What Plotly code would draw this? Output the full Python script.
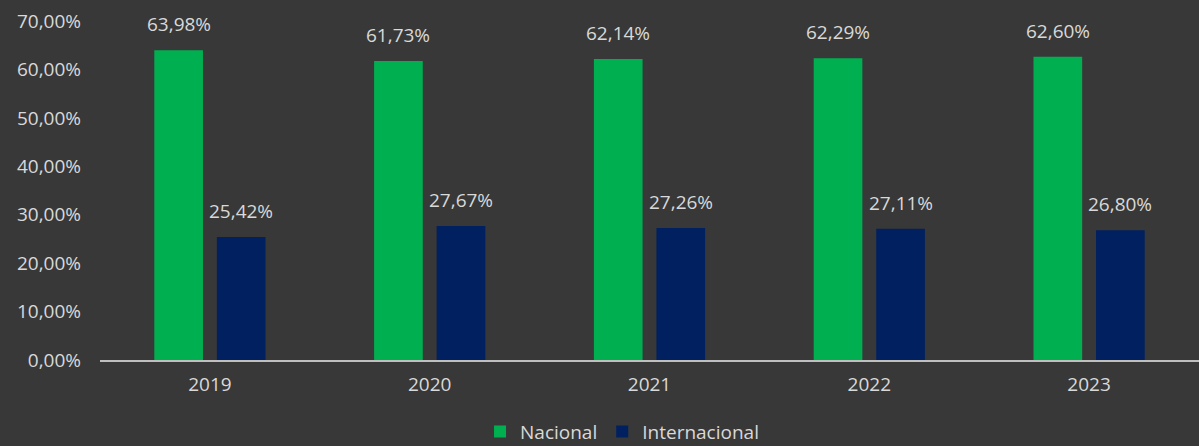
import plotly.graph_objects as go

years = ["2019", "2020", "2021", "2022", "2023"]
nacional = [0.6398, 0.6173, 0.6214, 0.6229, 0.6260]
internacional = [0.2542, 0.2767, 0.2726, 0.2711, 0.2680]
y_ticks = [0, 0.1, 0.2, 0.3, 0.4, 0.5, 0.6, 0.7]

GREEN = "#00B050"
NAVY = "#002060"
BG = "#383838"
TXT = "#D9D9D9"
FONT = "Open Sans"
FS = 19

bargap = 0.431
bargroupgap = 0.222
offset = (1 - bargap) / 4  # center offset of each bar within its group

fig = go.Figure()
fig.add_trace(go.Bar(x=list(range(len(years))), y=nacional, name="Nacional",
                     marker=dict(color=GREEN, line=dict(width=0))))
fig.add_trace(go.Bar(x=list(range(len(years))), y=internacional, name="Internacional",
                     marker=dict(color=NAVY, line=dict(width=0))))

def fmt(v):
    return f"{v*100:.2f}%".replace(".", ",")

annotations = []
for i, (a, b) in enumerate(zip(nacional, internacional)):
    annotations.append(dict(x=i - offset, y=a, text=fmt(a), showarrow=False,
                            yanchor="bottom", yshift=11, xref="x", yref="y",
                            font=dict(family=FONT, size=FS, color=TXT)))
    annotations.append(dict(x=i + offset, y=b, text=fmt(b), showarrow=False,
                            yanchor="bottom", yshift=11, xref="x", yref="y",
                            font=dict(family=FONT, size=FS, color=TXT)))

fig.update_layout(
    width=1199, height=446,
    paper_bgcolor=BG, plot_bgcolor=BG,
    margin=dict(l=100, r=0, t=21, b=86, autoexpand=False),
    barmode="group", bargap=bargap, bargroupgap=bargroupgap,
    separators=",.",
    font=dict(family=FONT, size=FS, color=TXT),
    showlegend=True,
    legend=dict(orientation="h", x=0.475, xanchor="center", y=-0.155, yanchor="top",
                font=dict(family=FONT, size=FS, color=TXT), bgcolor="rgba(0,0,0,0)",
                traceorder="normal"),
    annotations=annotations,
)
fig.update_xaxes(tickmode="array", tickvals=list(range(len(years))), ticktext=years,
                 range=[-0.5, len(years) - 0.5], showline=True, linecolor="#BFBFBF",
                 linewidth=2, showgrid=False, zeroline=False, ticks="",
                 tickfont=dict(family=FONT, size=FS, color=TXT), ticklabelstandoff=6)
fig.update_yaxes(range=[0, 0.7], tickvals=y_ticks, tickformat=".2%", showgrid=False,
                 zeroline=False, showline=False, ticks="",
                 tickfont=dict(family=FONT, size=FS, color=TXT), ticklabelstandoff=18)

fig.write_html("out.html", config={"displayModeBar": False},
               post_script="document.body.style.margin='0';document.body.style.overflow='hidden';")
